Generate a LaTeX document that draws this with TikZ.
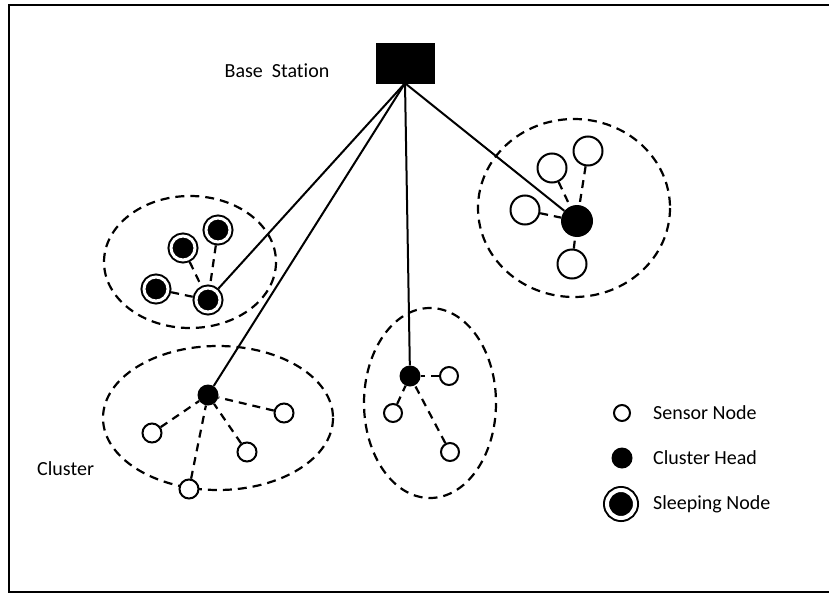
\documentclass[tikz,border=0pt]{standalone}
\usepackage{fontspec}
\setmainfont[Ligatures=NoCommon]{Carlito}
\usetikzlibrary{calc}

\begin{document}
\begin{tikzpicture}[
        %We set the scale (one unit is one pixel) and define some styles
        x=1pt, y=-1pt,
        frame line/.style={line width=2.5pt},
        important line/.style={line width=2pt},
        dashed line/.style={line width=2.2pt, dash pattern=on 8pt off 6pt},
        cluster line/.style={line width=2.2pt, dash pattern=on 9pt off 6pt},
        sensor/.style={circle, draw, line width=2pt, fill=white, inner sep=0pt, minimum size=#1},
        sensor/.default=19pt,
        head/.style={circle, fill=black, inner sep=0pt, minimum size=#1},
        head/.default=21pt,
        sleeping/.style={circle, draw, fill=black, line width=2pt, double=white,
            double distance=3pt, inner sep=0pt, outer sep=3.5pt, minimum size=#1},
        sleeping/.default=24pt,
        label text/.style={font=\fontsize{20}{24}\selectfont, anchor=west, inner sep=0pt},
        every node/.style={color=black,}
     ]
\useasboundingbox (0,0) rectangle (829,594);
\begin{scope}
    % Frame around the picture
    \draw[frame line] (9,5) rectangle (836,592);
    % Base station
    \node[draw, fill=black, minimum width=58pt, minimum height=40pt, inner sep=0pt] (bs) at (405,63) {};
    \node[label text, anchor=center] (bslabel) at (277,71) {Base\ \ Station};

    % Important coordinates are defined
    \coordinate (ca) at (190,262);
    \coordinate (cb) at (574,208);
    \coordinate (cc) at (218,418);
    \coordinate (cd) at (430,403);

    % The clusters are drawn as dashed ellipses
    \draw[cluster line] (ca) ellipse [x radius=86, y radius=66];
    \draw[cluster line] (cb) ellipse [x radius=96, y radius=89];
    \draw[cluster line] (cc) ellipse [x radius=115, y radius=72];
    \draw[cluster line] (cd) ellipse [x radius=66, y radius=95];

    % Cluster with sleeping nodes
    \node[sleeping] (ah) at (208,300) {};
    \node[sleeping] (a1) at (218,230) {};
    \node[sleeping] (a2) at (183,248) {};
    \node[sleeping] (a3) at (156,289) {};

    % Cluster at the top right
    \node[head=32pt] (bh) at (577,221) {};
    \node[sensor=29pt] (b1) at (588,151) {};
    \node[sensor=29pt] (b2) at (552,168) {};
    \node[sensor=29pt] (b3) at (525,210) {};
    \node[sensor=29pt] (b4) at (572,264) {};

    % Cluster at the bottom left
    \node[head] (ch) at (208,395) {};
    \node[sensor] (c1) at (284,413) {};
    \node[sensor] (c2) at (152,433) {};
    \node[sensor] (c3) at (247,452) {};
    \node[sensor] (c4) at (189,489) {};

    % Cluster in the middle
    \node[head] (dh) at (410,376) {};
    \node[sensor=18pt] (d1) at (449,376) {};
    \node[sensor=18pt] (d2) at (393,413) {};
    \node[sensor=18pt] (d3) at (450,452) {};

    % Links inside the clusters
    \draw[dashed line] (a1) -- (ah);
    \draw[dashed line] (a2) -- (ah);
    \draw[dashed line] (a3) -- (ah);
    \draw[dashed line] (b1) -- (bh);
    \draw[dashed line] (b2) -- (bh);
    \draw[dashed line] (b3) -- (bh);
    \draw[dashed line] (b4) -- (bh);
    \draw[dashed line] (c1) -- (ch);
    \draw[dashed line] (c2) -- (ch);
    \draw[dashed line] (c3) -- (ch);
    \draw[dashed line] (c4) -- (ch);
    \draw[dashed line] (d1) -- (dh);
    \draw[dashed line] (d2) -- (dh);
    \draw[dashed line] (d3) -- (dh);

    % Links from the cluster heads to the base station
    \draw[important line] (bs.south) -- (ah);
    \draw[important line] (bs.south) -- (ch);
    \draw[important line] (bs.south) -- (dh);
    \draw[important line] (bs.south) -- (bh);

    % Legend
    \node[sensor=16pt] (l1) at (622,413) {};
    \node[head] (l2) at (622,458) {};
    \node[sleeping=28pt, double distance=4pt, outer sep=4pt] (l3) at (621,504) {};
    \node[label text] (t1) at (653,413) {Sensor Node};
    \node[label text] (t2) at (653,458) {Cluster Head};
    \node[label text] (t3) at (653,504) {Sleeping Node};
    \node[label text] (tc) at (37,469) {Cluster};
\end{scope}
\end{tikzpicture}
\end{document}
